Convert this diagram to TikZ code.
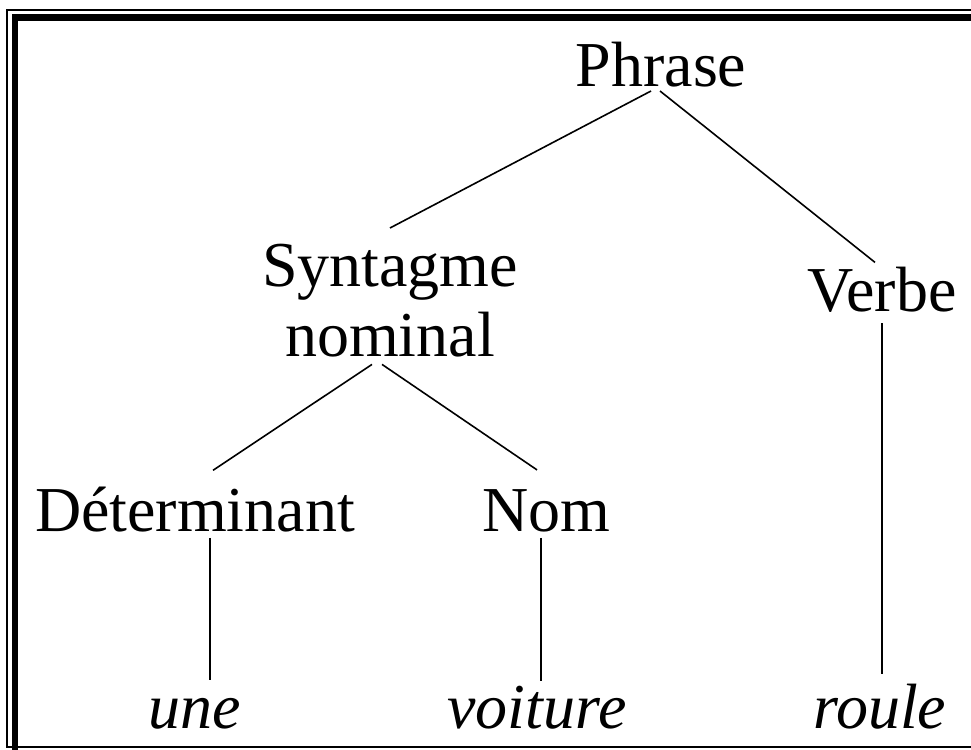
\documentclass[tikz,border=0pt]{standalone}
\usepackage{fontspec}
\setmainfont{Liberation Serif}
\begin{document}
\begin{tikzpicture}[x=1pt,y=-1pt,
  mot/.style={inner sep=0pt,anchor=base,font=\fontsize{64}{70}\selectfont},
  feuille/.style={mot,font=\fontsize{64}{70}\selectfont\itshape},
  trait/.style={line width=1.6pt}]
 \clip (0,0) rectangle (971,749);
 % cadre double
 \draw [line width=2pt] (7,10) rectangle (990,747);
 \draw [line width=6.5pt] (15,17.5) rectangle (990,780);
 % arbre
 \node [mot] (phrase) at (661,87) {Phrase};
 \node [mot,align=center,anchor=north] (sn) at (390,244) {Syntagme\\nominal};
 \node [mot] (verbe) at (882,311) {Verbe};
 \node [mot] (det) at (195,531) {Déterminant};
 \node [mot] (nom) at (546,531) {Nom};
 \node [feuille] (une) at (195,728) {une};
 \node [feuille] (voiture) at (537,728) {voiture};
 \node [feuille] (roule) at (880,728) {roule};
 \draw [trait] ([shift={(-10,4)}]phrase.base) -- ([shift={(0,-16)}]sn.north);
 \draw [trait] ([shift={(-1,4)}]phrase.base) -- ([shift={(-7,-4)}]verbe.north);
 \draw [trait] ([shift={(-18,7)}]sn.south) -- ([shift={(18,-16)}]det.north);
 \draw [trait] ([shift={(-8,7)}]sn.south) -- ([shift={(-9,-19)}]nom.north);
 \draw [trait] ([shift={(15,6)}]det.south) -- ([shift={(15,-18)}]une.north);
 \draw [trait] ([shift={(-5,6)}]nom.south) -- ([shift={(4,-4)}]voiture.north);
 \draw [trait] ([shift={(0,11)}]verbe.south) -- ([shift={(2,-9)}]roule.north);
\end{tikzpicture}
\end{document}
